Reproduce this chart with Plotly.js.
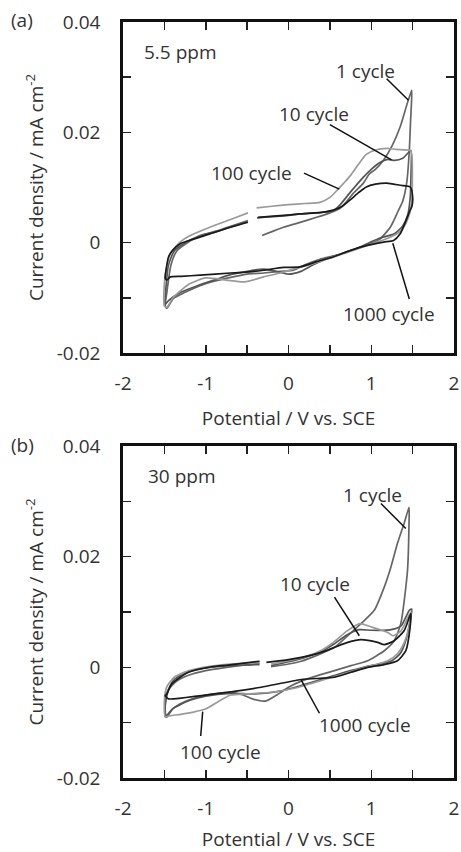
<!DOCTYPE html>
<html>
<head>
<meta charset="utf-8">
<script src="https://cdn.plot.ly/plotly-3.0.1.min.js"></script>
<style>html,body{margin:0;padding:0;background:#fff;}#chart{width:461px;height:852px;}</style>
</head>
<body>
<div id="chart"></div>
<script>
// ---------- Panel (a): 5.5 ppm ----------
const a1V = [-0.32,-0.2,-0.06,0.1,0.34,0.5,0.62,0.7,0.78,0.9,0.98,1.05,1.15,1.25,1.35,1.43,1.47,1.49,1.485,1.475,1.46,1.43,1.38,1.33,1.23,1.1,0.95,0.8,0.6,0.38,0.2,0.06,-0.1,-0.3,-0.5,-0.67,-0.9,-1.07,-1.25,-1.39,-1.47,-1.49,-1.47,-1.42,-1.35,-1.2,-1.07,-0.85,-0.67,-0.49];
const a1J = [0.0013,0.0020,0.0028,0.0035,0.0046,0.0054,0.0062,0.0074,0.0089,0.0107,0.0125,0.0133,0.0150,0.0175,0.0210,0.0250,0.0268,0.0276,0.0250,0.0220,0.0167,0.0110,0.0075,0.0059,0.0028,0.0006,-0.0004,-0.0012,-0.0022,-0.0030,-0.0040,-0.0050,-0.0052,-0.0055,-0.0057,-0.0062,-0.0070,-0.0078,-0.0090,-0.0101,-0.0119,-0.0115,-0.0090,-0.0040,-0.0015,0.0002,0.0013,0.0022,0.0031,0.0040];

const a10V = [-0.38,-0.1,0.14,0.4,0.54,0.62,0.75,0.9,1.0,1.1,1.2,1.28,1.38,1.46,1.48,1.48,1.47,1.44,1.38,1.28,1.1,0.95,0.8,0.6,0.45,0.3,0.15,0.0,-0.15,-0.3,-0.5,-0.7,-0.9,-1.1,-1.3,-1.45,-1.49,-1.48,-1.45,-1.38,-1.25,-1.07,-0.85,-0.67,-0.5];
const a10J = [0.0045,0.0048,0.0052,0.0055,0.0058,0.0068,0.0092,0.0118,0.0133,0.0145,0.0151,0.0149,0.0153,0.0165,0.0167,0.0120,0.0080,0.0050,0.0030,0.0016,0.0008,-0.0002,-0.0012,-0.0022,-0.0030,-0.0040,-0.0052,-0.0057,-0.0052,-0.0048,-0.0052,-0.0058,-0.0068,-0.0078,-0.0090,-0.0105,-0.0112,-0.0080,-0.0040,-0.0015,0.0000,0.0012,0.0021,0.0030,0.0038];

const a100V = [-0.385,-0.2,0.0,0.2,0.38,0.5,0.6,0.68,0.75,0.85,0.94,1.05,1.19,1.3,1.47,1.49,1.49,1.45,1.38,1.31,1.2,1.05,0.9,0.7,0.5,0.3,0.1,-0.1,-0.3,-0.53,-0.75,-1.0,-1.2,-1.39,-1.47,-1.5,-1.5,-1.48,-1.43,-1.31,-1.2,-0.95,-0.7,-0.49];
const a100J = [0.0063,0.0066,0.0069,0.0071,0.0073,0.0082,0.0097,0.0110,0.0122,0.0143,0.0160,0.0168,0.0171,0.0169,0.0167,0.0160,0.0077,0.0046,0.0025,0.0016,0.0008,0.0000,-0.0008,-0.0018,-0.0028,-0.0038,-0.0046,-0.0055,-0.0062,-0.0071,-0.0068,-0.0064,-0.0075,-0.0099,-0.0117,-0.0115,-0.0074,-0.0050,-0.0020,0.0001,0.0012,0.0028,0.0042,0.0054];

const a1000V = [-0.37,-0.1,0.14,0.4,0.54,0.65,0.75,0.85,0.94,1.05,1.19,1.35,1.47,1.50,1.49,1.47,1.42,1.35,1.27,1.15,0.95,0.75,0.54,0.35,0.14,-0.06,-0.3,-0.47,-0.7,-1.07,-1.3,-1.43,-1.47,-1.49,-1.48,-1.45,-1.40,-1.31,-1.2,-0.95,-0.7,-0.49];
const a1000J = [0.0046,0.0049,0.0052,0.0055,0.0059,0.0066,0.0078,0.0091,0.0101,0.0106,0.0108,0.0104,0.0101,0.0083,0.0065,0.0059,0.0040,0.0016,0.0004,0.0001,-0.0005,-0.0014,-0.0026,-0.0034,-0.0044,-0.0045,-0.0050,-0.0053,-0.0055,-0.0059,-0.0061,-0.0062,-0.0068,-0.0064,-0.0050,-0.0026,-0.0014,-0.0002,0.0004,0.0016,0.0028,0.0037];

// ---------- Panel (b): 30 ppm ----------
const b1V = [-0.21,0.0,0.154,0.35,0.555,0.7,0.876,1.036,1.157,1.237,1.317,1.397,1.457,1.457,1.438,1.357,1.277,1.157,0.957,0.756,0.555,0.35,0.154,0.0,-0.12,-0.28,-0.42,-0.55,-0.7,-0.9,-1.05,-1.25,-1.4,-1.47,-1.49,-1.49,-1.45,-1.35,-1.2,-1.0,-0.75,-0.55,-0.35];
const b1J = [0.0001,0.0006,0.0011,0.0022,0.0036,0.0055,0.0079,0.0103,0.0145,0.0181,0.0224,0.0260,0.0289,0.0266,0.0175,0.0079,0.0048,0.0030,0.0012,0.0003,-0.0006,-0.0015,-0.0025,-0.0036,-0.0048,-0.0061,-0.0058,-0.0050,-0.0045,-0.0048,-0.0052,-0.0062,-0.0075,-0.0090,-0.0088,-0.0060,-0.0040,-0.0025,-0.0014,-0.0006,0.0000,0.0004,0.0007];

const b10V = [-0.21,0.0,0.2,0.4,0.55,0.7,0.85,1.0,1.15,1.24,1.36,1.46,1.49,1.47,1.42,1.35,1.25,1.1,0.95,0.75,0.55,0.35,0.15,-0.1,-0.4,-0.7,-1.0,-1.2,-1.4,-1.48,-1.49,-1.45,-1.38,-1.2,-0.95,-0.7,-0.35];
const b10J = [0.0003,0.0010,0.0018,0.0029,0.0042,0.0058,0.0068,0.0067,0.0067,0.0068,0.0075,0.0103,0.0105,0.0085,0.0050,0.0025,0.0012,0.0006,0.0002,-0.0006,-0.0015,-0.0024,-0.0033,-0.0043,-0.0048,-0.0047,-0.0052,-0.0060,-0.0075,-0.0088,-0.0070,-0.0040,-0.0022,-0.0008,0.0000,0.0003,0.0005];

const b100V = [-0.21,0.0,0.2,0.4,0.55,0.7,0.86,1.0,1.2,1.26,1.36,1.46,1.48,1.46,1.4,1.32,1.2,1.0,0.8,0.55,0.3,0.1,-0.2,-0.5,-0.7,-0.85,-1.0,-1.15,-1.3,-1.45,-1.49,-1.5,-1.47,-1.38,-1.2,-0.95,-0.7,-0.35];
const b100J = [0.0006,0.0012,0.0019,0.0031,0.0046,0.0065,0.0079,0.0073,0.0063,0.0057,0.0066,0.0095,0.0100,0.0075,0.0045,0.0025,0.0012,0.0003,-0.0006,-0.0017,-0.0028,-0.0037,-0.0045,-0.0048,-0.0050,-0.0062,-0.0075,-0.0081,-0.0085,-0.0088,-0.0090,-0.0060,-0.0035,-0.0018,-0.0006,0.0002,0.0006,0.0009];

const b1000V = [-0.267,0.0,0.154,0.395,0.555,0.716,0.876,1.077,1.157,1.277,1.397,1.478,1.47,1.418,1.317,1.157,0.957,0.756,0.555,0.154,-0.33,-0.73,-1.05,-1.45,-1.49,-1.47,-1.41,-1.21,-0.93,-0.73,-0.35];
const b1000J = [0.0009,0.0014,0.0018,0.0027,0.0036,0.0045,0.0050,0.0045,0.0041,0.0048,0.0066,0.0097,0.0073,0.0030,0.0012,0.0005,0.0000,-0.0009,-0.0018,-0.0022,-0.0036,-0.0045,-0.0051,-0.0057,-0.0051,-0.0048,-0.0030,-0.0009,0.0001,0.0004,0.0011];

const seriesNames = ['1 cycle','10 cycle','100 cycle','1000 cycle'];
const seriesColors = ['#666666','#555555','#9a9a9a','#1a1a1a'];

const xTickVals = [-2,-1,0,1,2];
const xTickText = ['-2','-1','0','1','2'];
const xMinor = [-1.5,-0.5,0.5,1.5];
const yTickVals = [-0.02,0,0.02,0.04];
const yTickText = ['-0.02','0','0.02','0.04'];
const yMinor = [-0.01,0.01,0.03];

const panelA = [[a1V,a1J],[a10V,a10J],[a100V,a100J],[a1000V,a1000J]];
const panelB = [[b1V,b1J],[b10V,b10J],[b100V,b100J],[b1000V,b1000J]];

const traces = [];
panelA.forEach((d,i)=>traces.push({x:d[0],y:d[1],xaxis:'x',yaxis:'y',mode:'lines',name:seriesNames[i],
  line:{color:seriesColors[i],width:1.7,shape:'spline',smoothing:0.6},showlegend:false,hoverinfo:'skip'}));
panelB.forEach((d,i)=>traces.push({x:d[0],y:d[1],xaxis:'x2',yaxis:'y2',mode:'lines',name:seriesNames[i],
  line:{color:seriesColors[i],width:1.7,shape:'spline',smoothing:0.6},showlegend:false,hoverinfo:'skip'}));

const FONT = 'Open Sans, Noto Sans, sans-serif';
const TXT = '#333333';
const FS = 19;

function xAxis(anchor){
  return {anchor:anchor, domain:[0,1], range:[-2,2], tickmode:'array', tickvals:xTickVals, ticktext:xTickText,
    ticks:'inside', ticklen:8, tickwidth:1.5, tickcolor:'#222', showline:true, linewidth:2.8, linecolor:'#111',
    mirror:'ticks', showgrid:false, zeroline:false, ticklabelstandoff:11,
    minor:{tickmode:'array', tickvals:xMinor, ticks:'inside', ticklen:8, tickwidth:1.5, tickcolor:'#222'},
    tickfont:{family:FONT,size:FS,color:TXT},
    title:{text:'Potential / V vs. SCE', font:{family:FONT,size:FS,color:TXT}, standoff:18}};
}
function yAxis(anchor, domain){
  return {anchor:anchor, domain:domain, range:[-0.02,0.04], tickmode:'array', tickvals:yTickVals, ticktext:yTickText,
    ticks:'inside', ticklen:8, tickwidth:1.5, tickcolor:'#222', showline:true, linewidth:2.8, linecolor:'#111',
    mirror:'ticks', showgrid:false, zeroline:false, ticklabelstandoff:16,
    minor:{tickmode:'array', tickvals:yMinor, ticks:'inside', ticklen:8, tickwidth:1.5, tickcolor:'#222'},
    tickfont:{family:FONT,size:FS,color:TXT},
    title:{text:'Current density / mA cm<sup>-2</sup>', font:{family:FONT,size:FS,color:TXT}, standoff:8}};
}

const lbl = (xr,yr,x,y,t)=>({xref:xr,yref:yr,x:x,y:y,text:t,showarrow:false,font:{family:FONT,size:FS,color:TXT},xanchor:'center',yanchor:'middle'});
const ldr = (xr,yr,x0,y0,x1,y1)=>({type:'line',xref:xr,yref:yr,x0:x0,y0:y0,x1:x1,y1:y1,line:{color:'#111',width:1.5}});

const layout = {
  width:461, height:852, margin:{l:123,r:7,t:22,b:74}, paper_bgcolor:'#fff', plot_bgcolor:'#fff',
  font:{family:FONT,color:TXT},
  xaxis: xAxis('y'), yaxis: yAxis('x',[0.5622,1]),
  xaxis2: xAxis('y2'), yaxis2: yAxis('x2',[0,0.4392]),
  annotations:[
    {xref:'paper',yref:'paper',x:-0.305,y:1.003,text:'(a)',showarrow:false,xanchor:'center',yanchor:'middle',font:{family:FONT,size:FS,color:TXT}},
    {xref:'paper',yref:'paper',x:-0.305,y:0.4405,text:'(b)',showarrow:false,xanchor:'center',yanchor:'middle',font:{family:FONT,size:FS,color:TXT}},
    lbl('x','y',-1.30,0.0345,'5.5 ppm'),
    lbl('x','y',0.93,0.0312,'1 cycle'),
    lbl('x','y',0.31,0.0234,'10 cycle'),
    lbl('x','y',-0.445,0.0126,'100 cycle'),
    lbl('x','y',1.21,-0.0130,'1000 cycle'),
    lbl('x2','y2',-1.29,0.0345,'30 ppm'),
    lbl('x2','y2',1.01,0.0311,'1 cycle'),
    lbl('x2','y2',0.32,0.0151,'10 cycle'),
    lbl('x2','y2',-0.82,-0.0153,'100 cycle'),
    lbl('x2','y2',0.92,-0.0104,'1000 cycle')
  ],
  shapes:[
    ldr('x','y',1.186,0.0297,1.45,0.0258),
    ldr('x','y',0.50,0.0214,1.246,0.0150),
    ldr('x','y',0.187,0.0126,0.614,0.0097),
    ldr('x','y',1.46,-0.0102,1.26,-0.0001),
    ldr('x2','y2',1.117,0.0296,1.418,0.0251),
    ldr('x2','y2',0.555,0.0127,0.856,0.0057),
    ldr('x2','y2',-1.061,-0.0124,-1.037,-0.0080),
    ldr('x2','y2',0.374,-0.0083,0.154,-0.0023)
  ]
};

Plotly.newPlot('chart', traces, layout, {staticPlot:true, displayModeBar:false});
</script>
</body>
</html>
